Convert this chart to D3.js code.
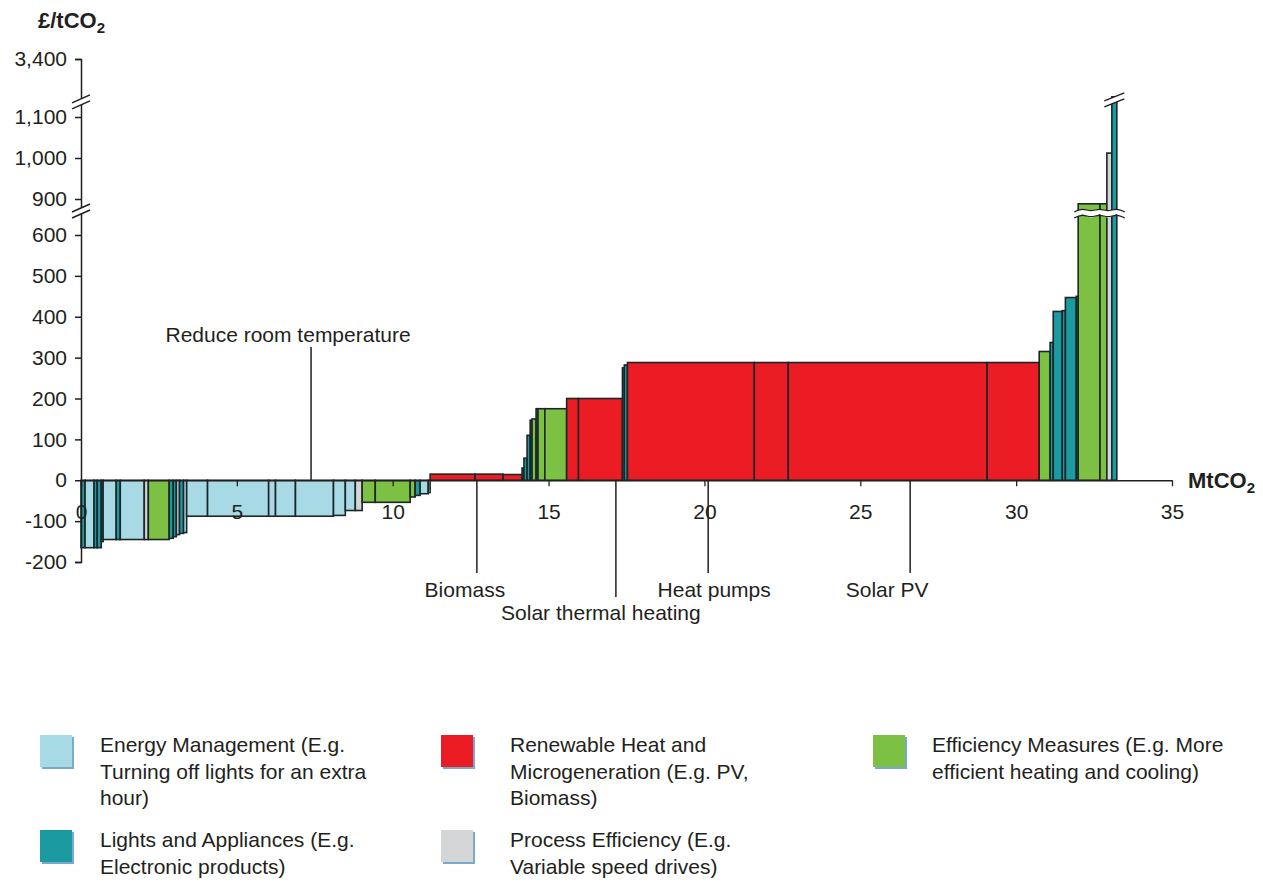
<!DOCTYPE html>
<html>
<head>
<meta charset="utf-8">
<script src="https://cdn.jsdelivr.net/npm/d3@7"></script>
<style>
  body { margin: 0; background: #fff; }
  svg text { font-family: "Liberation Sans", Arial, Helvetica, sans-serif; fill: #231f20; }
</style>
</head>
<body>
<div id="chart"></div>
<script>
// Marginal abatement cost curve - bars, left to right
const barCategory = ["LA","EM","LA","LA","LA","EM","LA","EM","PE","EF",
                     "LA","LA","PE","LA","EM","EM","EM","EM","EM","EM",
                     "EM","EM","PE","EF","EF","EF","LA","EM","PE","RH",
                     "RH","RH","LA","LA","LA","LA","EF","LA","EF","EF",
                     "RH","RH","LA","LA","RH","RH","RH","RH","EF","LA",
                     "LA","LA","LA","LA","EF","EF","PE","LA"];
// abatement (MtCO2) of each measure
const barWidth = [0.13,0.29,0.10,0.13,0.06,0.42,0.13,0.77,0.13,0.67,
                  0.13,0.10,0.10,0.13,0.10,0.67,1.96,0.22,0.64,1.22,
                  0.38,0.32,0.22,0.42,1.12,0.16,0.16,0.26,0.06,1.44,
                  0.90,0.61,0.06,0.10,0.10,0.06,0.13,0.06,0.22,0.70,
                  0.38,1.41,0.06,0.10,4.07,1.09,6.38,1.67,0.35,0.10,
                  0.29,0.10,0.35,0.06,0.70,0.22,0.16,0.16];
// cost (£/tCO2) of each measure
const barCost = [-165,-165,-165,-165,-150,-145,-145,-145,-145,-145,
                 -142,-138,-133,-130,-128,-88,-88,-88,-88,-88,
                 -86,-74,-74,-54,-54,-41,-37,-33,-30,15,
                 15,14,30,54,110,147,150,175,175,175,
                 200,200,275,282,288,288,288,288,315,337,
                 413,415,447,450,860,860,1012,1900];

const yTicks = [-200,-100,0,100,200,300,400,500,600,900,1000,1100,3400];
const xTicks = [0,5,10,15,20,25,30,35];
const axisBreaks = [800, 1700];   // where the value axis is broken

const annotations = [
  {label: "Reduce room temperature", at: 7.38, dx: -23, textY: 342, lineTop: 347, lineBottom: 480},
  {label: "Biomass", at: 12.7, dx: -12, textY: 597, lineTop: 480, lineBottom: 573},
  {label: "Solar thermal heating", at: 17.16, dx: -15, textY: 620, lineTop: 480, lineBottom: 597},
  {label: "Heat pumps", at: 20.12, dx: 6, textY: 597, lineTop: 480, lineBottom: 573},
  {label: "Solar PV", at: 26.6, dx: -23, textY: 597, lineTop: 480, lineBottom: 573}
];

const legendKeys = ["EM","RH","EF","LA","PE"];
const legendLabels = [
  ["Energy Management (E.g.", "Turning off lights for an extra", "hour)"],
  ["Renewable Heat and", "Microgeneration (E.g. PV,", "Biomass)"],
  ["Efficiency Measures (E.g. More", "efficient heating and cooling)"],
  ["Lights and Appliances (E.g.", "Electronic products)"],
  ["Process Efficiency (E.g.", "Variable speed drives)"]
];
const colors = {EM: "#a7dae4", RH: "#ec1c24", EF: "#7cc143", LA: "#1b9ba1", PE: "#d3d5d7"};

const width = 1263, height = 884;
const ink = "#231f20";

const svg = d3.select("#chart").append("svg")
  .attr("width", width)
  .attr("height", height);

// Scales (value axis is piecewise, with two breaks)
const x = d3.scaleLinear().domain([0, 35]).range([81, 1172]);
const y = d3.scaleLinear()
  .domain([-200, 600, 900, 1100, 3400])
  .range([562, 235, 199, 117, 59]);

// Bars
const starts = [0, ...d3.cumsum(barWidth)];
const bars = barCost.map((c, i) => ({cat: barCategory[i], x0: starts[i], x1: starts[i + 1], cost: c}));

svg.append("g").selectAll("rect")
  .data(bars)
  .join("rect")
  .attr("x", d => x(d.x0))
  .attr("width", d => x(d.x1) - x(d.x0))
  .attr("y", d => Math.min(y(d.cost), y(0)))
  .attr("height", d => Math.abs(y(d.cost) - y(0)))
  .attr("fill", d => colors[d.cat])
  .attr("stroke", "#1c2626")
  .attr("stroke-width", 1.6);

// wavy break across the tall bars
const tall = bars.filter(d => d.cost > 600);
const wx0 = x(tall[0].x0) - 4, wx1 = x(tall[tall.length - 1].x1) + 8;
const wy = y(axisBreaks[0]) + 2;
const wave = d3.line().curve(d3.curveBasis);
const wavePts = off => d3.range(0, 7).map(k => [wx0 + (wx1 - wx0) * k / 6, wy + off + (k % 2 ? -2 : 2)]);
svg.append("path")
  .attr("d", wave(wavePts(-3)) + "L" + wavePts(3).reverse().map(p => p.join(",")).join("L") + "Z")
  .attr("fill", "#fff");
svg.append("path").attr("d", wave(wavePts(-3))).attr("fill", "none").attr("stroke", ink).attr("stroke-width", 1.2);
svg.append("path").attr("d", wave(wavePts(3))).attr("fill", "none").attr("stroke", ink).attr("stroke-width", 1.2);

// break marks (axis and highest bar)
function breakMark(cx, cy, half) {
  const g = svg.append("g");
  g.append("path")
    .attr("d", `M${cx - half},${cy + 1} L${cx + half},${cy - 7} L${cx + half},${cy - 1} L${cx - half},${cy + 7} Z`)
    .attr("fill", "#fff");
  g.append("line").attr("x1", cx - half).attr("y1", cy + 1).attr("x2", cx + half).attr("y2", cy - 7)
    .attr("stroke", ink).attr("stroke-width", 1.5);
  g.append("line").attr("x1", cx - half).attr("y1", cy + 7).attr("x2", cx + half).attr("y2", cy - 1)
    .attr("stroke", ink).attr("stroke-width", 1.5);
}
const last = bars[bars.length - 1];
breakMark((x(last.x0) + x(last.x1)) / 2, y(axisBreaks[1]) - 2, 10);

// Y axis
const yAxis = svg.append("g")
  .attr("transform", `translate(${x(0)},0)`)
  .call(d3.axisLeft(y).tickValues(yTicks).tickSize(6).tickPadding(8)
    .tickFormat(d => d < 0 ? "-" + d3.format(",")(-d) : d3.format(",")(d)));
yAxis.select(".domain").attr("stroke", ink).attr("stroke-width", 1.5);
yAxis.selectAll(".tick line").attr("stroke", ink).attr("stroke-width", 1.5);
yAxis.selectAll(".tick text").style("font-size", "21px").attr("fill", ink);
axisBreaks.forEach(v => breakMark(x(0), y(v), 9));

// X axis
const xAxis = svg.append("g")
  .attr("transform", `translate(0,${y(0)})`)
  .call(d3.axisBottom(x).tickValues(xTicks).tickSize(6).tickPadding(18).tickSizeOuter(0));
xAxis.select(".domain").attr("stroke", ink).attr("stroke-width", 1.5);
xAxis.selectAll(".tick line").attr("stroke", ink).attr("stroke-width", 1.3);
xAxis.selectAll(".tick text").style("font-size", "21px").attr("fill", ink);

// Axis titles
const yTitle = svg.append("text").attr("x", 38).attr("y", 28)
  .style("font-size", "22px").style("font-weight", "bold");
yTitle.append("tspan").text("£/tCO");
yTitle.append("tspan").attr("dy", 5).style("font-size", "15px").text("2");

const xTitle = svg.append("text").attr("x", 1188).attr("y", 488)
  .style("font-size", "22px").style("font-weight", "bold");
xTitle.append("tspan").text("MtCO");
xTitle.append("tspan").attr("dy", 5).style("font-size", "15px").text("2");

// Annotations
const ann = svg.append("g").selectAll("g").data(annotations).join("g");
ann.append("line")
  .attr("x1", d => x(d.at)).attr("x2", d => x(d.at))
  .attr("y1", d => d.lineTop).attr("y2", d => d.lineBottom)
  .attr("stroke", ink).attr("stroke-width", 1.5);
ann.append("text")
  .attr("x", d => x(d.at) + d.dx)
  .attr("y", d => d.textY)
  .attr("text-anchor", "middle")
  .style("font-size", "21px")
  .text(d => d.label);

// Legend
const colX = [40, 441, 873], textX = [100, 510, 932];
const rowY = [735, 830];
const legend = svg.append("g").selectAll("g")
  .data(legendKeys)
  .join("g")
  .attr("transform", (d, i) => `translate(${colX[i % 3]},${rowY[Math.floor(i / 3)]})`);
legend.append("rect")
  .attr("x", 2).attr("y", 2).attr("width", 32).attr("height", 32)
  .attr("fill", "#7aaacb");
legend.append("rect")
  .attr("width", 32).attr("height", 32)
  .attr("fill", d => colors[d]);
legend.append("text")
  .attr("x", (d, i) => textX[i % 3] - colX[i % 3])
  .attr("y", 17)
  .style("font-size", "21px")
  .selectAll("tspan")
  .data((d, i) => legendLabels[i])
  .join("tspan")
  .attr("x", function () { return this.parentNode.getAttribute("x"); })
  .attr("dy", (d, j) => j === 0 ? 0 : 26.5)
  .text(d => d);
</script>
</body>
</html>
